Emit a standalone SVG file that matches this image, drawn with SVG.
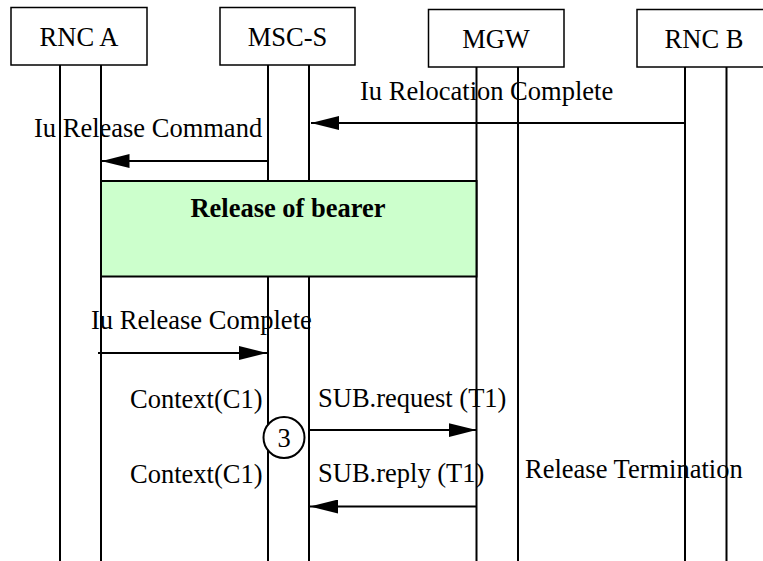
<svg xmlns="http://www.w3.org/2000/svg" width="763" height="561" viewBox="0 0 763 561">
<style>
.box{fill:#fff;stroke:#000;stroke-width:1.5}
.life{stroke:#000;stroke-width:2;fill:none}
.msg{stroke:#000;stroke-width:2;fill:none}
text{font-family:"Liberation Serif","Times New Roman",serif;font-size:26.5px;fill:#000}
.lbl{text-anchor:middle}
.bold{font-weight:bold}
</style>
<defs>
<marker id="ah" markerWidth="28" markerHeight="14" refX="28" refY="7" orient="auto" markerUnits="userSpaceOnUse">
<path d="M0,0 L28,7 L0,14 Z" fill="#000"/>
</marker>
</defs>
<g id="lifelines">
<line class="life" x1="60" y1="65" x2="60" y2="561"/>
<line class="life" x1="101" y1="65" x2="101" y2="561"/>
<line class="life" x1="268" y1="65" x2="268" y2="561"/>
<line class="life" x1="309" y1="65" x2="309" y2="561"/>
<line class="life" x1="476.5" y1="67" x2="476.5" y2="561"/>
<line class="life" x1="518" y1="67" x2="518" y2="561"/>
<line class="life" x1="685" y1="67" x2="685" y2="561"/>
<line class="life" x1="726.5" y1="67" x2="726.5" y2="561"/>
</g>
<g id="rnca">
<rect class="box" x="11" y="7.5" width="136" height="57.5"/>
<text class="lbl" x="79" y="46">RNC A</text>
</g>
<g id="mscs">
<rect class="box" x="220" y="7.5" width="135" height="57.5"/>
<text class="lbl" x="287.5" y="46">MSC-S</text>
</g>
<g id="mgw">
<rect class="box" x="428.5" y="9.5" width="135.5" height="57.5"/>
<text class="lbl" x="496" y="48">MGW</text>
</g>
<g id="rncb">
<rect class="box" x="637" y="9.5" width="136" height="57.5"/>
<text class="lbl" x="704" y="48">RNC B</text>
</g>
<g id="bearer">
<rect x="101" y="181" width="375.5" height="95.5" fill="#ccffcc" stroke="#000" stroke-width="2"/>
<text class="lbl bold" x="288" y="216.5">Release of bearer</text>
</g>
<g id="ctx3">
<circle cx="284" cy="437.5" r="20.5" fill="#fff" stroke="#000" stroke-width="2"/>
<text class="lbl" x="284" y="447">3</text>
</g>
<g id="connectors">
<line class="msg" x1="685" y1="123" x2="311" y2="123" marker-end="url(#ah)"/>
<line class="msg" x1="268" y1="161" x2="101.5" y2="161" marker-end="url(#ah)"/>
<line class="msg" x1="98" y1="353" x2="267" y2="353" marker-end="url(#ah)"/>
<line class="msg" x1="309" y1="430" x2="476.5" y2="430" marker-end="url(#ah)"/>
<line class="msg" x1="476.5" y1="506.5" x2="310" y2="506.5" marker-end="url(#ah)"/>
</g>
<g id="labels">
<text x="360" y="100">Iu Relocation Complete</text>
<text x="34" y="137">Iu Release Command</text>
<text x="91" y="329">Iu Release Complete</text>
<text x="130" y="407.5">Context(C1)</text>
<text x="318" y="407">SUB.request (T1)</text>
<text x="130" y="482.5">Context(C1)</text>
<text x="318" y="482">SUB.reply (T1)</text>
<text x="525" y="478">Release Termination</text>
</g>
</svg>
